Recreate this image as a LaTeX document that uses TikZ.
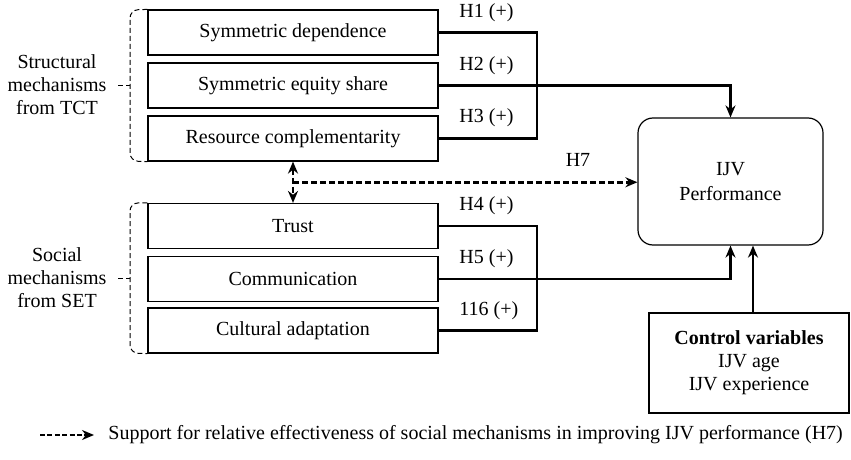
\documentclass[tikz,border=0pt]{standalone}
\usepackage{fontspec}
\setmainfont{Liberation Serif}
\usetikzlibrary{arrows.meta,calc}
\begin{document}
\begin{tikzpicture}[x=0.5pt,y=-0.5pt,
  every node/.style={font=\fontsize{10}{11.5}\selectfont, inner sep=0pt},
  mech/.style={draw, line width=0.6pt, minimum width=145pt, minimum height=22.5pt},
  bracket/.style={draw, line width=0.5pt, dash pattern=on 2.5pt off 1.5pt, rounded corners=4pt},
  link/.style={line width=1.3pt},
  arr/.style={link, -{Stealth[length=6pt,width=5pt]}},
  dashlink/.style={line width=1.3pt, dash pattern=on 3pt off 1.5pt},
  hyp/.style={anchor=west}]
\useasboundingbox (0,0) rectangle (851,460);

% structural mechanisms
\node[mech] (b1) at (293,32.5) {Symmetric dependence};
\node[mech] (b2) at (293,85.5) {Symmetric equity share};
\node[mech] (b3) at (293,138.5) {Resource complementarity};

% social mechanisms
\node[mech] (s1) at (293,226) {Trust};
\node[mech] (s2) at (293,279) {Communication};
\node[mech] (s3) at (293,330.5) {Cultural adaptation};

% outcome and controls
\node[draw, line width=0.6pt, rounded corners=7.5pt, minimum width=92.5pt, minimum height=63.5pt, align=center]
  (ijv) at (730.5,181.5) {IJV\\[1pt]Performance};
\node[draw, line width=0.6pt, minimum width=100pt, minimum height=50pt, align=center]
  (ctrl) at (749,363) {\textbf{Control variables}\\IJV age\\IJV experience};

% group labels and brackets
\node[align=center] (lab1) at (57,85) {Structural\\mechanisms\\from TCT};
\node[align=center] (lab2) at (57,278) {Social\\mechanisms\\from SET};
\draw[bracket] (b1.north west) -- (130,10) -- (130,161) -- (b3.south west);
\draw[bracket] (s1.north west) -- (130,203) -- (130,353) -- (s3.south west);
\draw[bracket, rounded corners=0pt] (118,85.5) -- (130,85.5);
\draw[bracket, rounded corners=0pt] (118,278) -- (130,278);

% structural paths
\coordinate (j1) at (537,32.5);
\draw[link] (b1.east) -- (j1) |- (b3.east);
\draw[arr] (b2.east) -| (ijv.north);

% social paths
\coordinate (j2) at (537,226);
\draw[link] (s1.east) -- (j2) |- (s3.east);
\draw[arr] (s2.east) -| (ijv.south);

% control path
\draw[arr] ([xshift=2pt]ctrl.north) -- ([xshift=2pt]ctrl.north |- ijv.south);

% relative effectiveness (H7)
\coordinate (m) at ($(b3.south)!0.5!(s1.north)$);
\draw[dashlink, {Stealth[length=6pt,width=5pt]}-{Stealth[length=6pt,width=5pt]}] (b3.south) -- (s1.north);
\draw[dashlink, -{Stealth[length=6pt,width=5pt]}] (m) -- (m -| ijv.west);

% hypothesis labels
\node[hyp] (h1) at (459,13) {H1 (+)};
\node[hyp] (h2) at (459,66) {H2 (+)};
\node[hyp] (h3) at (459,118) {H3 (+)};
\node (h7) at (578,160) {H7};
\node[hyp] (h4) at (459,206) {H4 (+)};
\node[hyp] (h5) at (459,259) {H5 (+)};
\node[hyp] (h6) at (459,311) {116 (+)};

% legend
\coordinate (lg) at (40,435);
\node[anchor=west] (lgt) at (108,435) {Support for relative effectiveness of social mechanisms in improving IJV performance (H7)};
\draw[line width=1pt, dash pattern=on 2.5pt off 1.2pt, -{Stealth[length=6pt,width=5pt]}] (lg) -- ([xshift=-7pt]lgt.west);
\end{tikzpicture}
\end{document}
